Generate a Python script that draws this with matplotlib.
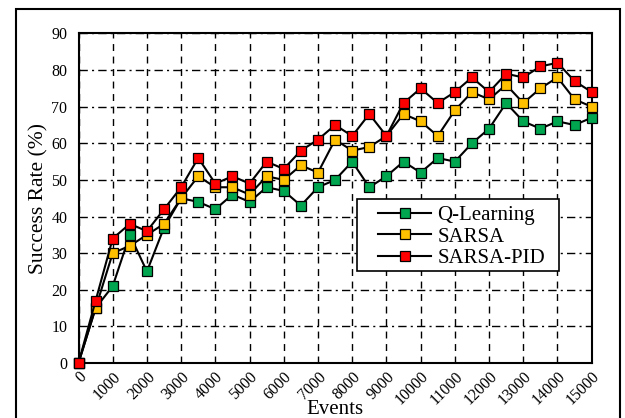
import matplotlib.pyplot as plt
from matplotlib.patches import Rectangle
import numpy as np

plt.rcParams['font.family'] = ['Liberation Serif', 'DejaVu Serif']

events = np.arange(0, 15001, 500)
q_learning = [0, 15, 21, 35, 25, 37, 45, 44, 42, 46, 44, 48, 47, 43, 48, 50,
              55, 48, 51, 55, 52, 56, 55, 60, 64, 71, 66, 64, 66, 65, 67]
sarsa = [0, 15, 30, 32, 35, 38, 45, 51, 48, 48, 46, 51, 50, 54, 52, 61,
         58, 59, 62, 68, 66, 62, 69, 74, 72, 76, 71, 75, 78, 72, 70]
sarsa_pid = [0, 17, 34, 38, 36, 42, 48, 56, 49, 51, 49, 55, 53, 58, 61, 65,
             62, 68, 62, 71, 75, 71, 74, 78, 74, 79, 78, 81, 82, 77, 74]
x_ticks = np.arange(0, 15001, 1000)
y_ticks = np.arange(0, 91, 10)

fig = plt.figure(figsize=(6.25, 4.18), dpi=100)
ax = fig.add_axes([0.1256, 0.1316, 0.8211, 0.7883])

# frame around the whole figure
fig.patches.append(Rectangle((16 / 625, -0.05), 604 / 625, 1.05 - 9 / 418,
                             transform=fig.transFigure, fill=False,
                             edgecolor='black', linewidth=1.5))

series = [(q_learning, '#00A550', 'Q-Learning'),
          (sarsa, '#FFC000', 'SARSA'),
          (sarsa_pid, '#FF0000', 'SARSA-PID')]
for vals, col, name in series:
    ax.plot(events, vals, color='black', lw=1.5, marker='s', ms=7,
            mfc=col, mec='black', mew=0.9, label=name, clip_on=False, zorder=3)

ax.set_xlim(0, 15000)
ax.set_ylim(0, 90)
ax.set_xticks(x_ticks)
ax.set_yticks(y_ticks)
ax.set_xticklabels([str(t) for t in x_ticks], rotation=45, ha='right',
                   va='top', rotation_mode='anchor', fontsize=11.5)
ax.tick_params(axis='y', labelsize=11.5, length=0, pad=8)
ax.tick_params(axis='x', length=0, pad=4)
ax.xaxis.grid(True, color='black', linestyle=(0, (5, 4)), linewidth=1)
ax.yaxis.grid(True, color='black', linestyle=(0, (6, 3, 1.5, 3)), linewidth=1)
ax.set_axisbelow(True)
for s in ax.spines.values():
    s.set_linewidth(1.5)

ax.set_xlabel('Events', fontsize=15, labelpad=-6)
ax.set_ylabel('Success Rate (%)', fontsize=15.5, labelpad=2)

# legend box is wider than matplotlib's padding allows, so draw it by hand
ax.add_patch(Rectangle((0.5427, 0.279), 0.3936, 0.2185, transform=ax.transAxes,
                       facecolor='white', edgecolor='black', linewidth=1.2,
                       zorder=4, clip_on=False))
leg = ax.legend(loc='center left', bbox_to_anchor=(0.5836, 0.3824), fontsize=15,
                frameon=False, borderpad=0, labelspacing=0.1,
                handlelength=2.55, handletextpad=0.3, borderaxespad=0)
leg.set_zorder(5)

fig.savefig('out.png', dpi=100)
